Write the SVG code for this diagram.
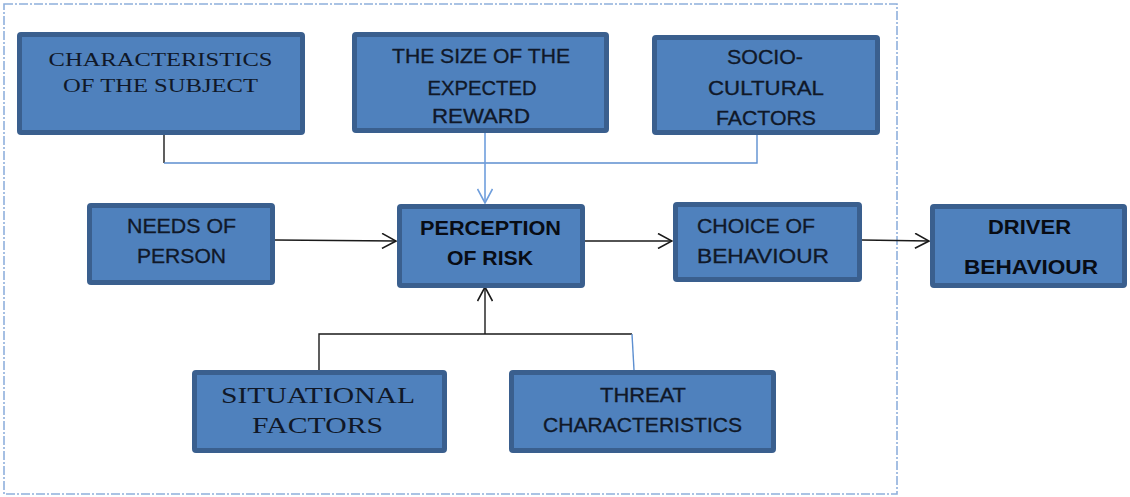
<svg xmlns="http://www.w3.org/2000/svg" width="1130" height="497" viewBox="0 0 1130 497">
  <style>
    .box { fill: #4f81bd; stroke: #3a5f8e; stroke-width: 5; }
    .sans { font-family: "Liberation Sans", Arial, sans-serif; font-size: 19.5px; fill: #101828; stroke: #101828; stroke-width: 0.3; text-anchor: middle; }
    .bold { font-weight: bold; fill: #080c14; stroke: none; }
    .serif { font-family: "Liberation Serif", "Times New Roman", serif; fill: #101828; text-anchor: middle; }
    .frame { fill: none; stroke: #8fb0dc; stroke-width: 1.6; stroke-dasharray: 9 2 2 2; }
    .dark { fill: none; stroke: #1a1a1a; stroke-width: 1.4; }
    .blue { fill: none; stroke: #5d8fd0; stroke-width: 1.4; }
    .lightblue { fill: none; stroke: #6f9edc; stroke-width: 1.6; }
  </style>
  <defs>
    <marker id="chevDark" viewBox="0 0 16 16" refX="15" refY="8" markerWidth="16" markerHeight="16" markerUnits="userSpaceOnUse" orient="auto">
      <path d="M1,0.5 L15,8 L1,15.5" fill="none" stroke="#1a1a1a" stroke-width="1.6"/>
    </marker>
    <marker id="chevBlue" viewBox="0 0 16 16" refX="15" refY="8" markerWidth="16" markerHeight="16" markerUnits="userSpaceOnUse" orient="auto">
      <path d="M1,0.5 L15,8 L1,15.5" fill="none" stroke="#6f9edc" stroke-width="1.6"/>
    </marker>
  </defs>

  <rect width="1130" height="497" fill="#ffffff"/>

  <!-- boundary of the perception model -->
  <rect class="frame" x="4" y="4" width="893" height="490"/>

  <!-- connectors -->
  <g id="connectors">
    <path class="dark" d="M164,135 V163"/>
    <path class="blue" d="M164,163 H757 V135"/>
    <path class="lightblue" d="M485,132 V203" marker-end="url(#chevBlue)"/>
    <path class="dark" d="M275,240 L396,241" marker-end="url(#chevDark)"/>
    <path class="dark" d="M585,241 H672" marker-end="url(#chevDark)"/>
    <path class="dark" d="M862,240 L929,241" marker-end="url(#chevDark)"/>
    <path class="dark" d="M485,334 V287" marker-end="url(#chevDark)"/>
    <path class="dark" d="M319,370 V334 H632"/>
    <path class="blue" d="M632,334 L634,370"/>
  </g>

  <g id="characteristics-of-subject">
    <rect class="box" x="19.5" y="34.5" width="283" height="98" rx="1.5"/>
    <text class="serif" font-size="18" x="160.5" y="66" textLength="224" lengthAdjust="spacingAndGlyphs">CHARACTERISTICS</text>
    <text class="serif" font-size="18" x="160.5" y="92" textLength="195" lengthAdjust="spacingAndGlyphs">OF THE SUBJECT</text>
  </g>

  <g id="size-of-reward">
    <rect class="box" x="354.5" y="34.5" width="252" height="96" rx="1.5"/>
    <text class="sans" x="481" y="63" textLength="178" lengthAdjust="spacingAndGlyphs">THE SIZE OF THE</text>
    <text class="sans" x="482" y="95" textLength="109" lengthAdjust="spacingAndGlyphs">EXPECTED</text>
    <text class="sans" x="481" y="123" textLength="98" lengthAdjust="spacingAndGlyphs">REWARD</text>
  </g>

  <g id="socio-cultural">
    <rect class="box" x="654.5" y="37.5" width="223" height="95" rx="1.5"/>
    <text class="sans" x="765" y="64" textLength="76" lengthAdjust="spacingAndGlyphs">SOCIO-</text>
    <text class="sans" x="766" y="95" textLength="116" lengthAdjust="spacingAndGlyphs">CULTURAL</text>
    <text class="sans" x="766" y="125" textLength="100" lengthAdjust="spacingAndGlyphs">FACTORS</text>
  </g>

  <g id="needs-of-person">
    <rect class="box" x="89.5" y="205.5" width="183" height="77" rx="1.5"/>
    <text class="sans" x="181.5" y="233" textLength="109" lengthAdjust="spacingAndGlyphs">NEEDS OF</text>
    <text class="sans" x="181.5" y="263" textLength="89" lengthAdjust="spacingAndGlyphs">PERSON</text>
  </g>

  <g id="perception-of-risk">
    <rect class="box" x="399.5" y="206.5" width="183" height="79" rx="1.5"/>
    <text class="sans bold" x="490.5" y="235" textLength="141" lengthAdjust="spacingAndGlyphs">PERCEPTION</text>
    <text class="sans bold" x="490" y="265" textLength="86" lengthAdjust="spacingAndGlyphs">OF RISK</text>
  </g>

  <g id="choice-of-behaviour">
    <rect class="box" x="675.5" y="204.5" width="184" height="75" rx="1.5"/>
    <text class="sans" x="756" y="233" textLength="118" lengthAdjust="spacingAndGlyphs">CHOICE OF</text>
    <text class="sans" x="763" y="263" textLength="132" lengthAdjust="spacingAndGlyphs">BEHAVIOUR</text>
  </g>

  <g id="driver-behaviour">
    <rect class="box" x="932.5" y="206.5" width="192" height="79" rx="1.5"/>
    <text class="sans bold" x="1029.5" y="234" textLength="83" lengthAdjust="spacingAndGlyphs">DRIVER</text>
    <text class="sans bold" x="1031" y="274" textLength="134" lengthAdjust="spacingAndGlyphs">BEHAVIOUR</text>
  </g>

  <g id="situational-factors">
    <rect class="box" x="194.5" y="372.5" width="250" height="78" rx="1.5"/>
    <text class="serif" font-size="22.5" x="318" y="403" textLength="194" lengthAdjust="spacingAndGlyphs">SITUATIONAL</text>
    <text class="serif" font-size="22.5" x="317.5" y="433" textLength="131" lengthAdjust="spacingAndGlyphs">FACTORS</text>
  </g>

  <g id="threat-characteristics">
    <rect class="box" x="511.5" y="372.5" width="262" height="78" rx="1.5"/>
    <text class="sans" x="643" y="402" textLength="86" lengthAdjust="spacingAndGlyphs">THREAT</text>
    <text class="sans" x="642.5" y="432" textLength="199" lengthAdjust="spacingAndGlyphs">CHARACTERISTICS</text>
  </g>
</svg>
